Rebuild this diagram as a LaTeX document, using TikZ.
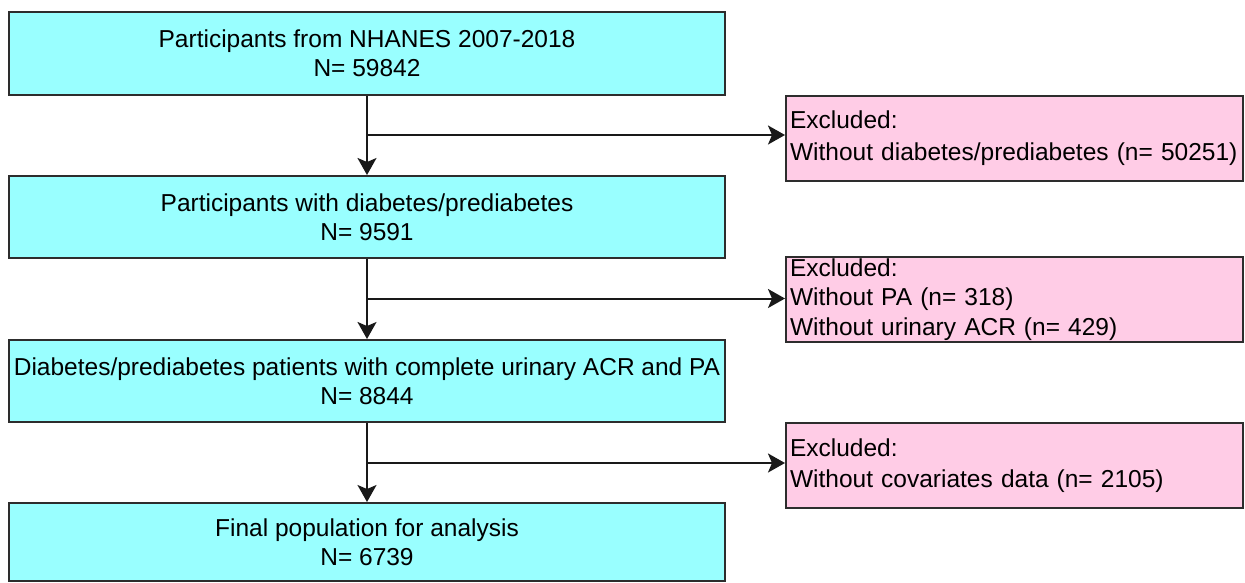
\documentclass[tikz,border=0pt]{standalone}
\usepackage{fontspec}
\setmainfont{Liberation Sans}
\usetikzlibrary{arrows.meta}
\definecolor{boxcyan}{RGB}{153,255,255}
\definecolor{boxpink}{RGB}{255,204,230}
\definecolor{edgegray}{RGB}{45,45,45}
\begin{document}
\begin{tikzpicture}[x=1pt,y=-1pt,
  mainbox/.style={draw=edgegray,line width=2pt,fill=boxcyan,minimum width=716pt,inner sep=0pt,align=center,
    font=\fontsize{24.5}{29}\selectfont},
  exbox/.style={draw=edgegray,line width=2pt,fill=boxpink,text width=449pt,inner sep=4pt,align=left,
    font=\fontsize{24.5}{31.5}\selectfont},
  conn/.style={line width=2pt,draw=black!90},
  arr/.style={conn,-{Stealth[length=17pt,width=19pt,inset=4pt]}}]
\useasboundingbox[fill=white] (0,0) rectangle (1245,582);
\node[mainbox,minimum height=83pt] (b1) at (367,53.5) {Participants from NHANES 2007-2018\\N= 59842};
\node[mainbox,minimum height=82pt] (b2) at (367,217) {Participants with diabetes/prediabetes\\N= 9591};
\node[mainbox,minimum height=82pt] (b3) at (367,381) {Diabetes/prediabetes patients with complete urinary ACR and PA\\N= 8844};
\node[mainbox,minimum height=78pt] (b4) at (367,542) {Final population for analysis\\N= 6739};
\node[exbox,minimum height=85pt] (ea) at (1014.5,138.3) {Excluded:\\Without diabetes/prediabetes (n= 50251)};
\node[exbox,minimum height=83pt,inner sep=2pt,text width=453pt,font=\fontsize{24.5}{29.5}\selectfont] (eb) at (1014.5,299.5) {\hspace*{2pt}Excluded:\\\hspace*{2pt}Without PA (n= 318)\\\hspace*{2pt}Without urinary ACR\hspace{8pt}(n= 429)};
\node[exbox,minimum height=85pt] (ec) at (1014.5,465.5) {Excluded:\\Without covariates data\hspace{8pt}(n= 2105)};
\coordinate (j1) at (367,135);
\coordinate (j2) at (367,298.5);
\coordinate (j3) at (367,463);
\draw[arr] (b1.south) -- (b2.north);
\draw[arr] (b2.south) -- (b3.north);
\draw[arr] (b3.south) -- (b4.north);
\draw[arr] (j1) -- (j1 -| ea.west);
\draw[arr] (j2) -- (j2 -| eb.west);
\draw[arr] (j3) -- (j3 -| ec.west);
\end{tikzpicture}
\end{document}
